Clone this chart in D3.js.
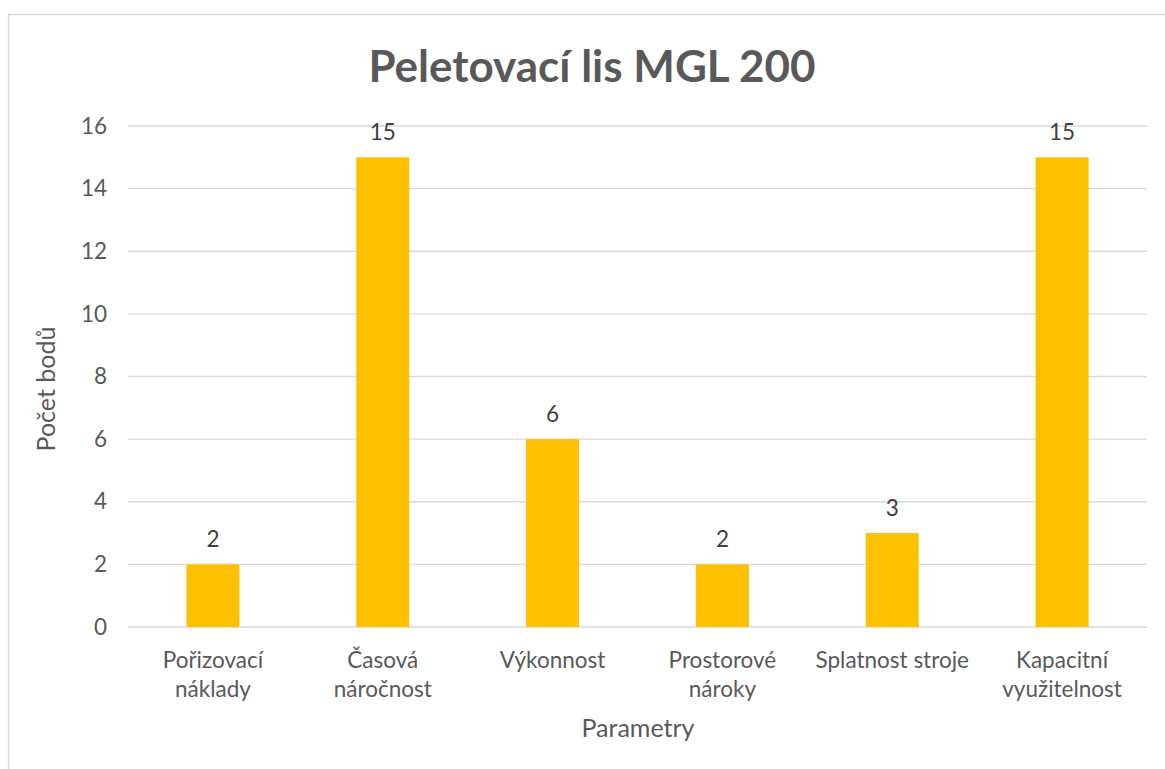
<!DOCTYPE html>
<html>
<head>
<meta charset="utf-8">
<script src="https://cdn.jsdelivr.net/npm/d3@7"></script>
<style>
  body { margin: 0; background: #fff; }
  svg { display: block; font-family: Lato, "Open Sans", sans-serif; }
</style>
</head>
<body>
<svg id="chart" width="1165" height="769"></svg>
<script>
// data
const categories = [
    ['Pořizovací', 'náklady'],
    ['Časová', 'náročnost'],
    ['Výkonnost'],
    ['Prostorové', 'nároky'],
    ['Splatnost stroje'],
    ['Kapacitní', 'využitelnost']
];
const values = [2, 15, 6, 2, 3, 15];
const yTicks = [0, 2, 4, 6, 8, 10, 12, 14, 16];

const textColor = '#595959';
const labelSize = '22.5px';
const svg = d3.select('#chart');

// chart border
svg.append('rect')
    .attr('x', 8.5).attr('y', 14.5)
    .attr('width', 1170).attr('height', 770)
    .attr('fill', 'none')
    .attr('stroke', '#d9d9d9')
    .attr('stroke-width', 1.5);

const plot = { left: 128, right: 1147, top: 126, bottom: 627 };

const x = d3.scaleBand()
    .domain(d3.range(categories.length))
    .range([plot.left, plot.right]);

const y = d3.scaleLinear()
    .domain([0, 16])
    .range([plot.bottom, plot.top]);

// gridlines
svg.append('g')
    .selectAll('line')
    .data(yTicks)
    .join('line')
    .attr('x1', plot.left).attr('x2', plot.right)
    .attr('y1', d => y(d)).attr('y2', d => y(d))
    .attr('stroke', '#d9d9d9')
    .attr('stroke-width', 1.3);

// y axis labels
const yAxis = svg.append('g')
    .attr('transform', `translate(${plot.left},0)`)
    .call(d3.axisLeft(y).tickValues(yTicks).tickSize(0).tickPadding(21));
yAxis.select('.domain').remove();
yAxis.selectAll('text')
    .attr('fill', textColor)
    .style('font-size', labelSize)
    .style('font-family', 'Lato, "Open Sans", sans-serif');

// bars
const barW = x.bandwidth() * 0.312;
svg.append('g')
    .selectAll('rect')
    .data(values)
    .join('rect')
    .attr('x', (d, i) => x(i) + x.bandwidth() / 2 - barW / 2)
    .attr('y', d => y(d))
    .attr('width', barW)
    .attr('height', d => y(0) - y(d))
    .attr('fill', '#ffc000');

// data labels
svg.append('g')
    .selectAll('text')
    .data(values)
    .join('text')
    .attr('x', (d, i) => x(i) + x.bandwidth() / 2)
    .attr('y', d => y(d) - 17)
    .attr('text-anchor', 'middle')
    .attr('fill', '#404040')
    .style('font-size', labelSize)
    .text(d => d);

// category labels
const cat = svg.append('g')
    .selectAll('text')
    .data(categories)
    .join('text')
    .attr('x', (d, i) => x(i) + x.bandwidth() / 2)
    .attr('y', 668)
    .attr('text-anchor', 'middle')
    .attr('fill', textColor)
    .style('font-size', labelSize);
cat.selectAll('tspan')
    .data(d => d)
    .join('tspan')
    .attr('x', function() { return this.parentNode.getAttribute('x'); })
    .attr('dy', (d, i) => i === 0 ? 0 : 29)
    .text(d => d);

// title
svg.append('text')
    .attr('x', 592).attr('y', 82)
    .attr('text-anchor', 'middle')
    .attr('fill', textColor)
    .style('font-size', '44px')
    .style('font-weight', 'bold')
    .text('Peletovací lis MGL 200');

// axis titles
svg.append('text')
    .attr('x', 638).attr('y', 737)
    .attr('text-anchor', 'middle')
    .attr('fill', textColor)
    .style('font-size', '25px')
    .text('Parametry');

svg.append('text')
    .attr('transform', 'translate(55,389) rotate(-90)')
    .attr('text-anchor', 'middle')
    .attr('fill', textColor)
    .style('font-size', '25px')
    .text('Počet bodů');
</script>
</body>
</html>
